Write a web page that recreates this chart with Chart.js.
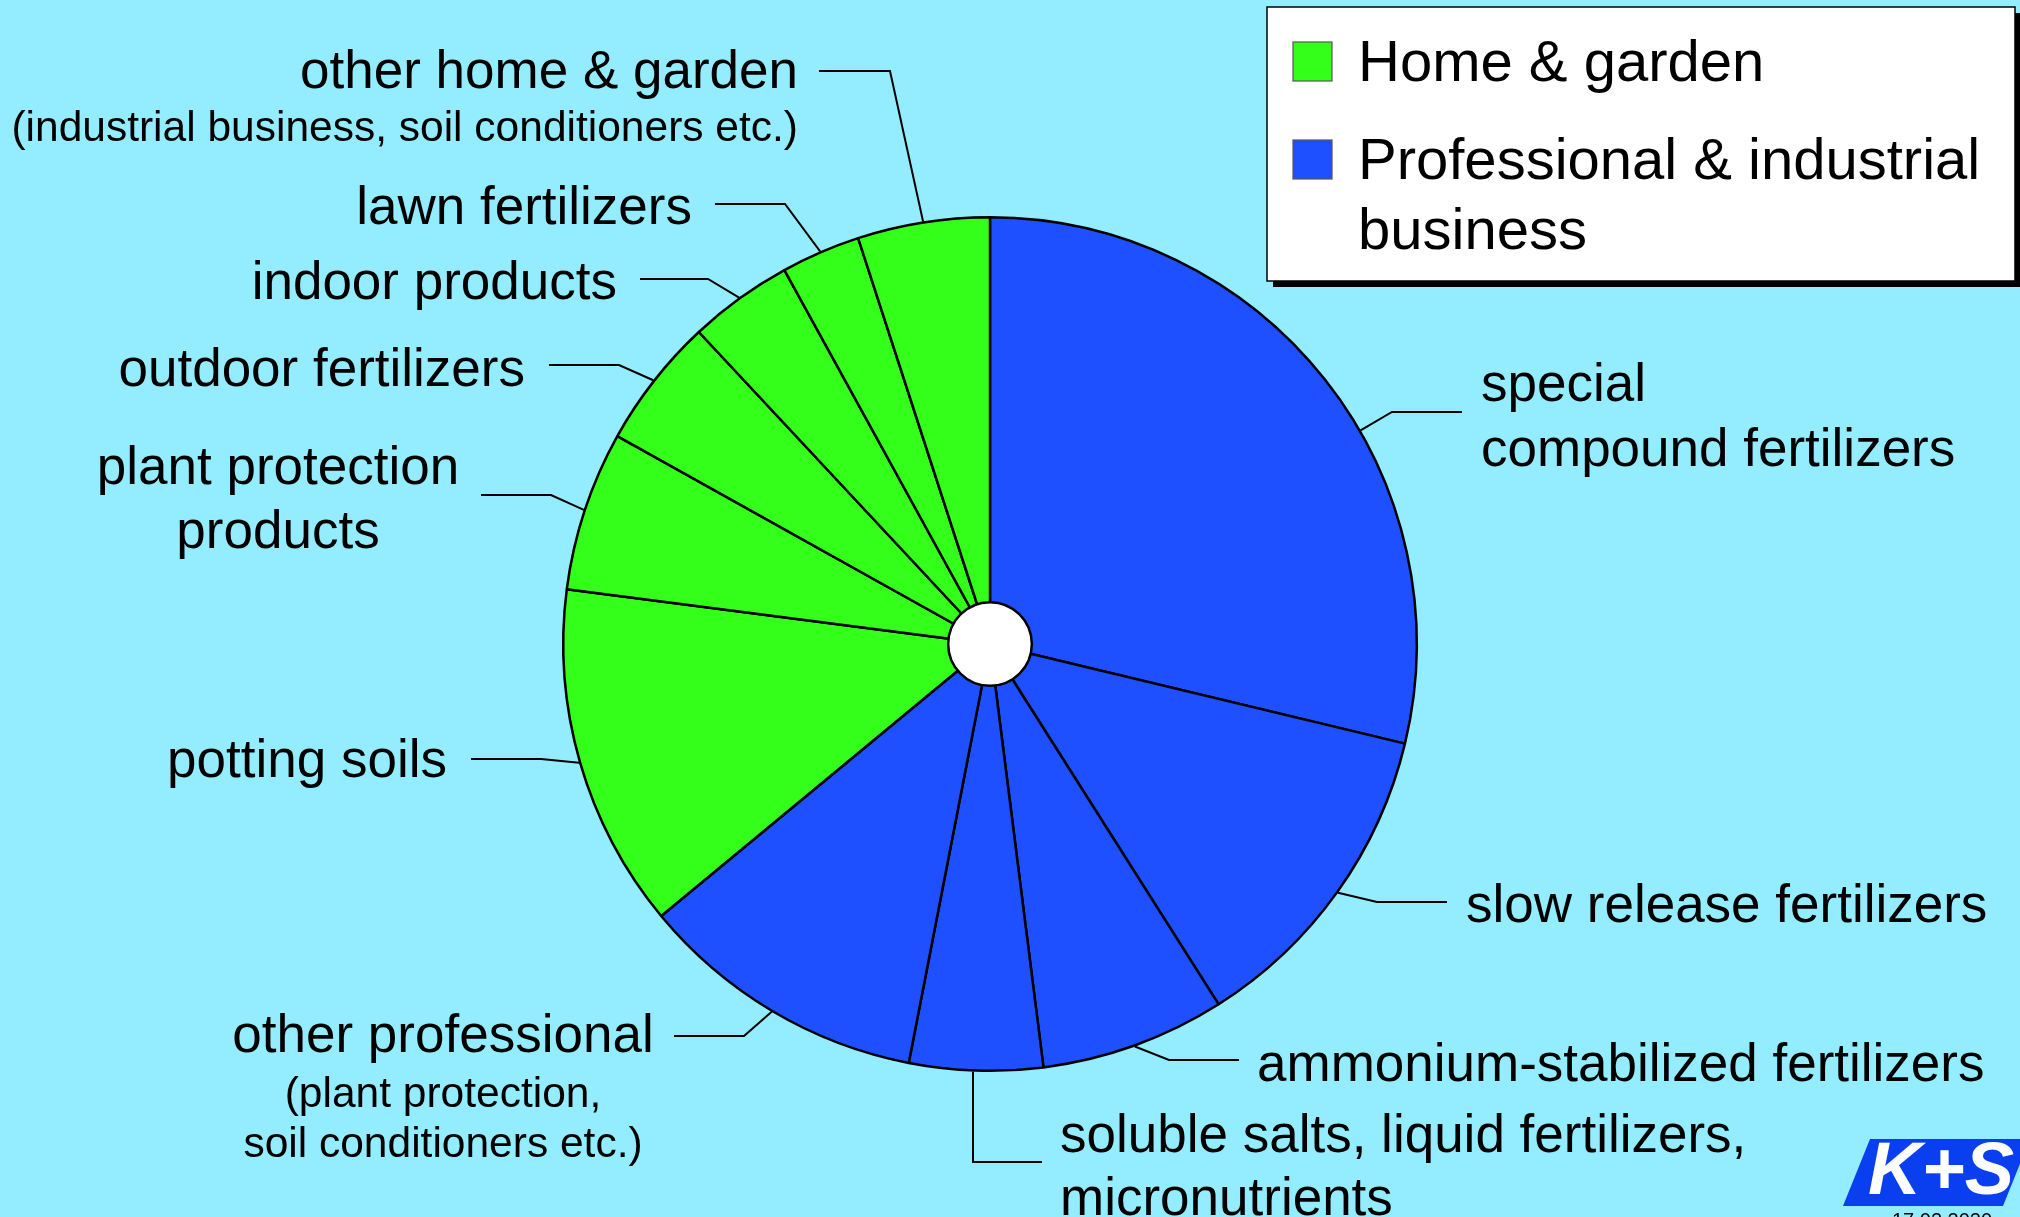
<!DOCTYPE html>
<html>
<head>
<meta charset="utf-8">
<title>Home & garden / Professional & industrial business</title>
<script src="https://cdn.jsdelivr.net/npm/chart.js@4/dist/chart.umd.min.js"></script>
<style>
    html, body { margin: 0; padding: 0; background: #93edff; overflow: hidden; }
    canvas { display: block; }
</style>
</head>
<body>
<canvas id="myChart" width="2020" height="1217"></canvas>
<script>
// data (share of the segment, %)
const categories = [
    ["special", "compound fertilizers"],
    ["slow release fertilizers"],
    ["ammonium-stabilized fertilizers"],
    ["soluble salts, liquid fertilizers,", "micronutrients"],
    ["other professional"],
    ["potting soils"],
    ["plant protection", "products"],
    ["outdoor fertilizers"],
    ["indoor products"],
    ["lawn fertilizers"],
    ["other home & garden"]
]
const notes = [
    [], [], [], [],
    ["(plant protection,", "soil conditioners etc.)"],
    [], [], [], [], [],
    ["(industrial business, soil conditioners etc.)"]
]
const values = [28.75, 12.25, 7.0, 5.05, 10.95, 13.05, 6.05, 4.95, 3.95, 3.0, 5.0]
const sliceGroup = [1, 1, 1, 1, 1, 0, 0, 0, 0, 0, 0]
const groupNames = [["Home & garden"], ["Professional & industrial", "business"]]
const logoText = "K+S"
const dateText = "17.02.2020"

const groupColors = ["#33ff1a", "#1e50ff"]
const bgColor = "#93edff"
const fontFamily = "'Liberation Sans', Arial, Helvetica, sans-serif"

// where each label sits: t = position of the leader on the slice edge,
// elbow/end = leader path, x + align = text anchor, base = text baselines
const labelLayout = [
    { t: 0.58, elbow: [1392, 412], end: [1462, 412], x: 1481, align: "left", base: [401, 466] },
    { t: 0.5, elbow: [1377, 902], end: [1447, 902], x: 1466, align: "left", base: [922] },
    { t: 0.5, elbow: [1169, 1060], end: [1239, 1060], x: 1257, align: "left", base: [1081] },
    { t: 0.5, elbow: [973, 1162], end: [1042, 1162], x: 1060, align: "left", base: [1152, 1215], vertical: true },
    { t: 0.5, elbow: [744, 1036], end: [674, 1036], x: 443, align: "center", base: [1052], noteBase: [1107, 1157] },
    { t: 0.5, elbow: [541, 759], end: [471, 759], x: 447, align: "right", base: [777] },
    { t: 0.5, elbow: [551, 495], end: [481, 495], x: 278, align: "center", base: [484, 548] },
    { t: 0.5, elbow: [619, 365], end: [549, 365], x: 525, align: "right", base: [386] },
    { t: 0.5, elbow: [708, 279], end: [640, 279], x: 617, align: "right", base: [299] },
    { t: 0.5, elbow: [785, 204], end: [715, 204], x: 692, align: "right", base: [224] },
    { t: 0.5, elbow: [890, 71], end: [819, 71], x: 798, align: "right", base: [88], noteBase: [141] }
]

const background = {
    id: "background",
    beforeDraw(chart) {
        const ctx = chart.ctx
        ctx.save()
        ctx.fillStyle = bgColor
        ctx.fillRect(0, 0, chart.width, chart.height)
        ctx.restore()
    }
}

const pieExtras = {
    id: "pieExtras",
    afterDraw(chart) {
        const ctx = chart.ctx
        const arcs = chart.getDatasetMeta(0).data
        ctx.save()

        // white hub in the middle
        const hub = arcs[0]
        ctx.beginPath()
        ctx.arc(hub.x, hub.y, hub.outerRadius * 0.098, 0, Math.PI * 2)
        ctx.fillStyle = "#ffffff"
        ctx.fill()
        ctx.lineWidth = 2.5
        ctx.strokeStyle = "#000000"
        ctx.stroke()

        // leader lines + labels
        ctx.fillStyle = "#000000"
        ctx.textBaseline = "alphabetic"
        arcs.forEach((arc, i) => {
            const lay = labelLayout[i]
            const a = arc.startAngle + lay.t * (arc.endAngle - arc.startAngle)
            let sx = arc.x + Math.cos(a) * (arc.outerRadius + 1)
            const sy = arc.y + Math.sin(a) * (arc.outerRadius + 1)
            if (lay.vertical) sx = lay.elbow[0]
            ctx.beginPath()
            ctx.moveTo(sx, sy)
            ctx.lineTo(lay.elbow[0], lay.elbow[1])
            ctx.lineTo(lay.end[0], lay.end[1])
            ctx.lineWidth = 2
            ctx.strokeStyle = "#000000"
            ctx.stroke()

            ctx.textAlign = lay.align
            ctx.font = "53px " + fontFamily
            categories[i].forEach((line, k) => {
                ctx.fillText(line, lay.x, lay.base[k])
            })
            if (notes[i].length) {
                ctx.font = "42.5px " + fontFamily
                notes[i].forEach((line, k) => {
                    ctx.fillText(line, lay.x, lay.noteBase[k])
                })
            }
        })

        // legend box with shadow
        const lx = 1267, ly = 7, lw = 748, lh = 274
        ctx.fillStyle = "#000000"
        ctx.fillRect(lx + 6, ly + 6, lw, lh)
        ctx.fillStyle = "#ffffff"
        ctx.fillRect(lx, ly, lw, lh)
        ctx.lineWidth = 1.5
        ctx.strokeStyle = "#000000"
        ctx.strokeRect(lx, ly, lw, lh)

        const boxTops = [42, 140]
        const textBases = [[81], [179, 249]]
        ctx.textAlign = "left"
        ctx.font = "58px " + fontFamily
        groupNames.forEach((name, g) => {
            ctx.fillStyle = groupColors[g]
            ctx.fillRect(1293, boxTops[g], 39, 39)
            ctx.lineWidth = 1.2
            ctx.strokeStyle = "#555555"
            ctx.strokeRect(1293, boxTops[g], 39, 39)
            ctx.fillStyle = "#000000"
            name.forEach((line, k) => {
                ctx.fillText(line, 1358, textBases[g][k])
            })
        })

        // K+S logo, bottom right
        ctx.beginPath()
        ctx.moveTo(1870, 1139)
        ctx.lineTo(2030, 1139)
        ctx.lineTo(2003, 1206)
        ctx.lineTo(1843, 1206)
        ctx.closePath()
        ctx.fillStyle = "#0a3ff0"
        ctx.fill()
        ctx.fillStyle = "#ffffff"
        ctx.font = "italic bold 74px " + fontFamily
        ctx.fillText(logoText, 1868, 1194)
        ctx.fillStyle = "#000000"
        ctx.font = "20px " + fontFamily
        ctx.fillText(dateText, 1892, 1227)

        ctx.restore()
    }
}

const config = {
    type: "pie",
    data: {
        labels: categories.map((c) => c.join(" ")),
        datasets: [
            {
                data: values,
                backgroundColor: sliceGroup.map((g) => groupColors[g]),
                borderColor: "#000000",
                borderWidth: 2.5
            }
        ]
    },
    options: {
        responsive: false,
        animation: false,
        devicePixelRatio: 1,
        layout: {
            padding: { left: 562, right: 602, top: 216, bottom: 145 }
        },
        plugins: {
            legend: { display: false },
            tooltip: { enabled: false }
        }
    },
    plugins: [background, pieExtras]
}

const chartDOM = document.getElementById("myChart")
const myChart = new Chart(chartDOM, config)
</script>
</body>
</html>
